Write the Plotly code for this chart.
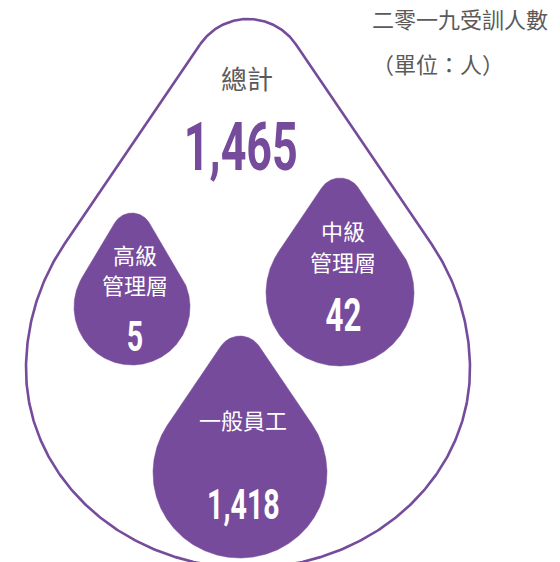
import numpy as np
import plotly.graph_objects as go

# ---------------- data ----------------
title_lines = ["二零一九受訓人數", "（單位：人）"]
total_label = "總計"
total_value = 1465
category_lines = [["高級", "管理層"], ["中級", "管理層"], ["一般員工"]]
values = [5, 42, 1418]

# ---------------- style / layout ----------------
PURPLE = "#764b9b"
GRAY = "#5a5a5a"
CJK = "Noto Sans CJK TC, Noto Sans CJK SC, sans-serif"
NUM = "Roboto, Liberation Sans, sans-serif"
W, H = 560, 562
CJK_SHIFT = -11
NUM_SHIFT = -0.1


def drop_path(cx, cy, R, ry, top, rr, n=90):
    s = (R - rr) / (cy - rr - top)
    a = np.arcsin(s)
    tc = top + rr
    th = np.linspace(np.pi + a, 2 * np.pi - a, n)
    xs = list(cx + rr * np.cos(th))
    ys = list(tc + rr * np.sin(th))
    th2 = np.linspace(-a, np.pi + a, 4 * n)
    bx = cx + R * np.cos(th2)
    by = np.where(np.sin(th2) > 0, cy + ry * np.sin(th2), cy + R * np.sin(th2))
    xs += list(bx)
    ys += list(by)
    xs.append(xs[0])
    ys.append(ys[0])
    return xs, ys


big = dict(cx=240, cy=361, R=222, ry=199, top=11, rr=58)
small = [
    dict(cx=124, cy=299, R=58, ry=58, top=205, rr=20, lab_y=[257, 287], val_y=333, val_size=42),
    dict(cx=332, cy=285, R=74, ry=73, top=170, rr=22, lab_y=[233, 264], val_y=312, val_size=46),
    dict(cx=232, cy=465, R=87, ry=85, top=328, rr=23, lab_y=[422], val_y=501, val_size=42),
]

fig = go.Figure()

bx, by = drop_path(**big)
fig.add_trace(go.Scatter(x=bx, y=by, mode="lines", line=dict(color=PURPLE, width=2.6),
                         hoverinfo="skip", showlegend=False))

for d in small:
    xs, ys = drop_path(d["cx"], d["cy"], d["R"], d["ry"], d["top"], d["rr"])
    fig.add_trace(go.Scatter(x=xs, y=ys, mode="lines", fill="toself", fillcolor=PURPLE,
                             line=dict(color=PURPLE, width=0.5), hoverinfo="skip", showlegend=False))

ann = []
ann.append(dict(x=362, y=21 + CJK_SHIFT, text=title_lines[0], xanchor="left", yanchor="middle",
                font=dict(family=CJK, size=22, color=GRAY)))
ann.append(dict(x=362, y=66 + CJK_SHIFT, text=title_lines[1], xanchor="left", yanchor="middle",
                font=dict(family=CJK, size=22, color=GRAY)))
ann.append(dict(x=239, y=80 + CJK_SHIFT, text=total_label, xanchor="center", yanchor="middle",
                font=dict(family=CJK, size=26, color=GRAY)))
ann.append(dict(x=233, y=146 + NUM_SHIFT * 66, text=f"{total_value:,}", xanchor="center", yanchor="middle",
                font=dict(family=NUM, size=66, color=PURPLE, weight="bold")))

for d, lines, v in zip(small, category_lines, values):
    for t, yy in zip(lines, d["lab_y"]):
        ann.append(dict(x=d["cx"] + 3, y=yy + CJK_SHIFT, text=t, xanchor="center", yanchor="middle",
                        font=dict(family=CJK, size=22, color="white")))
    ann.append(dict(x=d["cx"] + 3, y=d["val_y"] + NUM_SHIFT * d["val_size"], text=f"{v:,}",
                    xanchor="center", yanchor="middle",
                    font=dict(family=NUM, size=d["val_size"], color="white", weight="bold")))

for a in ann:
    a.update(xref="x", yref="y", showarrow=False)

fig.update_layout(
    width=W, height=H, margin=dict(l=0, r=0, t=0, b=0),
    paper_bgcolor="white", plot_bgcolor="white",
    xaxis=dict(range=[0, W], visible=False, fixedrange=True),
    yaxis=dict(range=[H, 0], visible=False, fixedrange=True),
    annotations=ann,
)

# condense the numeric labels horizontally (the original uses a condensed typeface)
post = """
var gd = document.getElementById('{plot_id}');
function squeeze(){
  gd.querySelectorAll('text.annotation-text').forEach(function(t){
    if(/^[0-9,]+$/.test(t.textContent.trim())){
      var bb = t.getBBox();
      var cx = bb.x + bb.width / 2;
      t.setAttribute('transform', 'translate(' + cx + ',0) scale(0.68,1) translate(' + (-cx) + ',0)');
    }
  });
}
squeeze();
setTimeout(squeeze, 50);
"""

fig.write_html("out.html", post_script=post)
